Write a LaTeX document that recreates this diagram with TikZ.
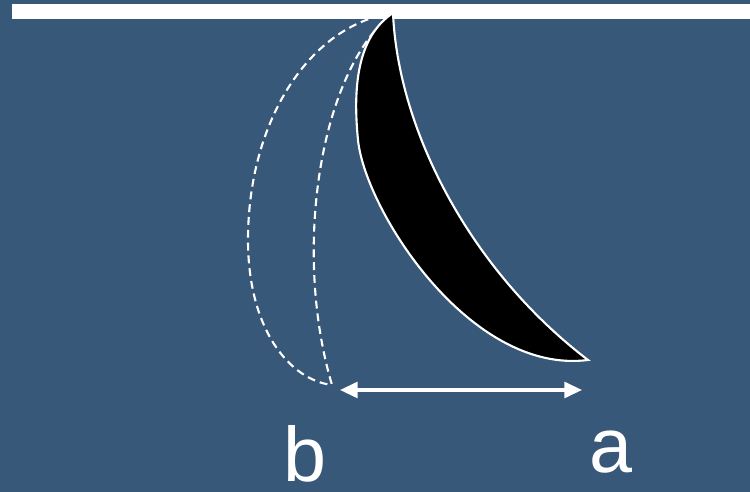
\documentclass[tikz,border=0pt]{standalone}
\usepackage{fontspec}
\setmainfont{Liberation Sans}
\usetikzlibrary{arrows.meta}
\definecolor{slate}{RGB}{56,88,122}
\tikzset{
  >={Triangle[length=10pt, width=9pt]},
  ghost/.style={draw=white, line width=1.2pt, dash pattern=on 4.5pt off 2.8pt},
  blade/.style={fill=black, draw=white, line width=1.2pt},
  measure/.style={<->, draw=white, line width=1.8pt},
  letter/.style={text=white, anchor=base, inner sep=0pt, font=\fontsize{44}{50}\selectfont},
}

\begin{document}
\begin{tikzpicture}[x=0.02cm, y=-0.02cm]
    \fill[slate] (0,0) rectangle (750,492);
    \useasboundingbox (0,0) rectangle (750,492);
    \coordinate (top)  at (393,13);
    \coordinate (btip) at (332,385);
    \coordinate (atip) at (588,360);
    \coordinate (bend) at (340,390);
    \coordinate (aend) at (582,390);
    % swung-back position
    \draw[ghost] (top) .. controls (310,25) and (248,120) .. (248,240)
                       .. controls (248,330) and (290,380) .. (btip);
    \draw[ghost] (top) .. controls (320,70) and (292,250) .. (btip);
    % bar
    \fill[white] (12,4) rectangle (750,19);
    % blade
    \filldraw[blade] (top) .. controls (360,35) and (352,80) .. (358,140)
                           .. controls (365,210) and (470,375) .. (atip)
                           .. controls (470,270) and (398,130) .. (top) -- cycle;
    \draw[measure] (bend) -- (aend);
    \node[letter] (b) at (305,482) {b};
    \node[letter] (a) at (611,473) {a};
  \end{tikzpicture}
\end{document}
